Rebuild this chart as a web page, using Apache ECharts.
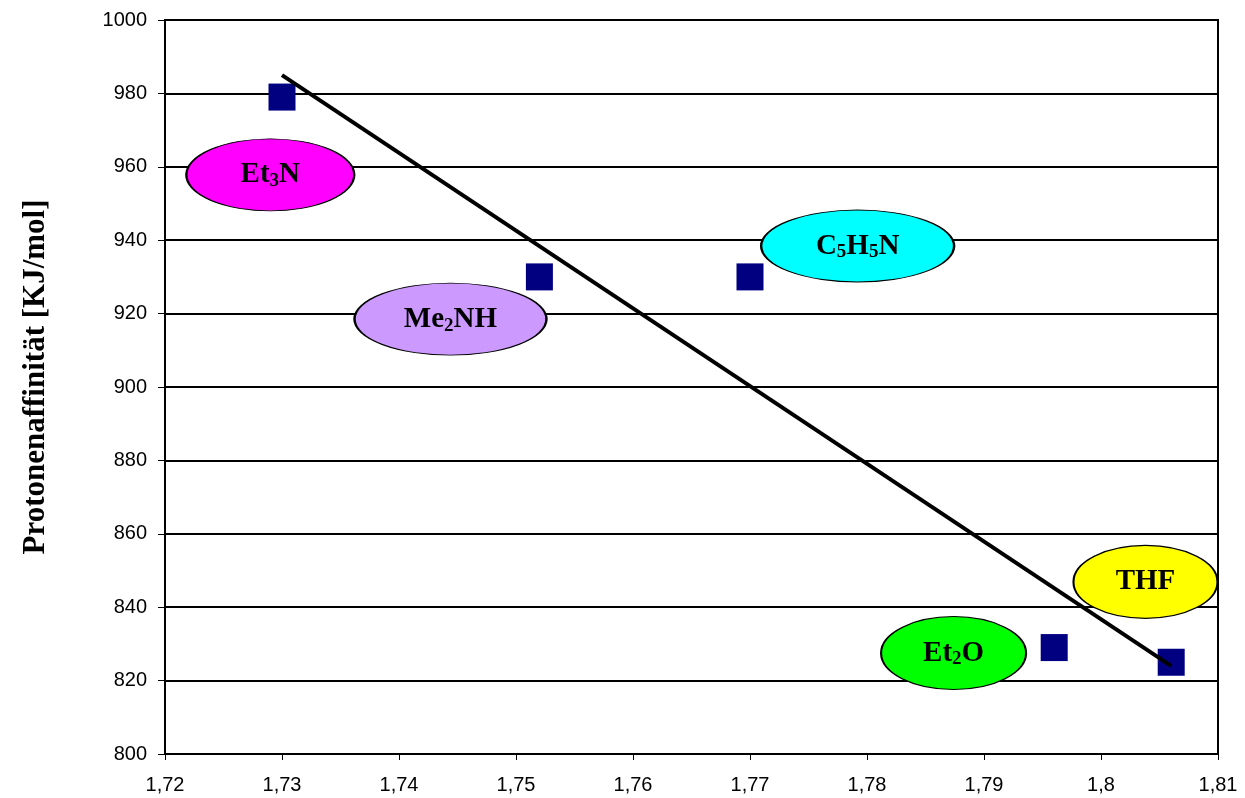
<!DOCTYPE html>
<html>
<head>
<meta charset="utf-8">
<script src="https://cdn.jsdelivr.net/npm/echarts@6/dist/echarts.min.js"></script>
<style>html,body{margin:0;padding:0;background:#fff}#c{width:1245px;height:798px}</style>
</head>
<body>
<div id="c"></div>
<script>
// Data points (bond length / proton affinity)
const xValues = [1.730, 1.752, 1.770, 1.796, 1.806];
const yValues = [979, 930, 930, 829, 825];
// Linear trendline end points
const trendX = [1.730, 1.806];
const trendY = [985, 824];
// Annotation ellipses
const labelNames = ['Et{s|3}N', 'Me{s|2}NH', 'C{s|5}H{s|5}N', 'Et{s|2}O', 'THF'];
const labelX = [1.729, 1.7444, 1.7792, 1.7874, 1.8038];
const labelY = [957.8, 918.5, 938.4, 827.5, 846.9];
const labelColors = ['#ff00ff', '#cc99ff', '#00ffff', '#00ff00', '#ffff00'];
// Axis tick labels
const xTickLabels = ['1,72','1,73','1,74','1,75','1,76','1,77','1,78','1,79','1,8','1,81'];
const yTickLabels = ['800','820','840','860','880','900','920','940','960','980','1000'];
const yTitle = 'Protonenaffinität [KJ/mol]';

const ellipseSizes = [[168,72],[192,72],[193,72],[145,73],[144,73]];
const ellipsePath = 'path://M0,50A50,50,0,1,1,100,50A50,50,0,1,1,0,50Z';

const chart = echarts.init(document.getElementById('c'));
const labelData = labelNames.map((n, i) => ({
  value: [labelX[i], labelY[i]],
  symbolSize: ellipseSizes[i],
  itemStyle: { color: labelColors[i] },
  label: { formatter: n }
}));
chart.setOption({
  animation: false,
  backgroundColor: '#fff',
  grid: { left: 165, right: 27, top: 20, bottom: 44, show: true, borderColor: '#000', borderWidth: 2, backgroundColor: 'transparent' },
  xAxis: {
    type: 'value', min: 1.72, max: 1.81, interval: 0.01,
    axisLine: { lineStyle: { color: '#000', width: 2 } },
    axisTick: { show: true, length: 6, lineStyle: { color: '#000', width: 1 } },
    splitLine: { show: false },
    axisLabel: { color: '#000', fontFamily: 'Liberation Sans', fontSize: 20, margin: 21,
      formatter: v => xTickLabels[Math.round((v - 1.72) * 100)] }
  },
  yAxis: {
    type: 'value', min: 800, max: 1000, interval: 20,
    name: yTitle, nameLocation: 'middle', nameGap: 114, nameRotate: 90,
    nameTextStyle: { fontFamily: 'Liberation Serif', fontWeight: 'bold', fontSize: 31, color: '#000', padding: [0, 0, 0, 20] },
    axisLine: { lineStyle: { color: '#000', width: 2 } },
    axisTick: { show: true, length: 7, lineStyle: { color: '#000', width: 1 } },
    splitLine: { show: true, lineStyle: { color: '#000', width: 2 } },
    axisLabel: { color: '#000', fontFamily: 'Liberation Sans', fontSize: 20, margin: 18,
      formatter: v => yTickLabels[Math.round((v - 800) / 20)] }
  },
  series: [
    {
      type: 'scatter', z: 3,
      symbol: ellipsePath,
      data: labelData,
      itemStyle: { borderColor: '#000', borderWidth: 1.5, opacity: 1 },
      label: {
        show: true, position: 'inside', color: '#000',
        fontFamily: 'Liberation Serif', fontWeight: 'bold', fontSize: 29, lineHeight: 32,
        rich: { s: { fontFamily: 'Liberation Serif', fontWeight: 'bold', fontSize: 19, lineHeight: 19, verticalAlign: 'bottom', color: '#000' } }
      },
      emphasis: { disabled: true },
      silent: true
    },
    {
      type: 'scatter', z: 4,
      symbol: 'rect', symbolSize: 27,
      itemStyle: { color: '#000080', opacity: 1 },
      emphasis: { disabled: true },
      data: xValues.map((x, i) => [x, yValues[i]])
    },
    {
      type: 'line', z: 5,
      showSymbol: false, symbol: 'none',
      lineStyle: { color: '#000', width: 4 },
      data: trendX.map((x, i) => [x, trendY[i]])
    }
  ]
});
</script>
</body>
</html>
